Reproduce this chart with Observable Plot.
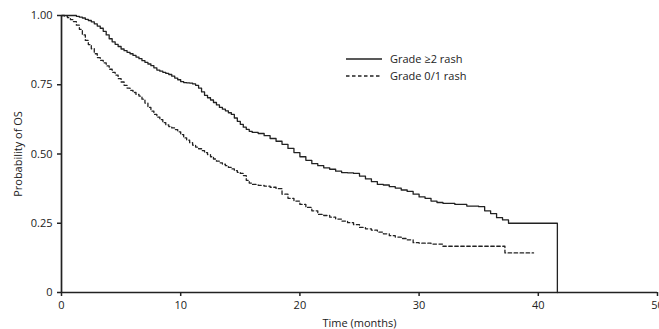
<!DOCTYPE html>
<html>
<head>
<meta charset="utf-8">
<script src="https://cdn.jsdelivr.net/npm/d3@7"></script>
<script src="https://cdn.jsdelivr.net/npm/@observablehq/plot@0.6"></script>
<style>
  html, body { margin: 0; padding: 0; background: #fff; }
  #wrap { position: relative; width: 659px; height: 329px; overflow: hidden; font-family: "Open Sans", "Noto Sans", sans-serif; }
  #legend { position: absolute; left: 346px; top: 50px; font-size: 11px; color: #222; }
  .li { display: flex; align-items: center; height: 17px; }
  .li svg { margin-right: 8px; }
</style>
</head>
<body>
<div id="wrap"></div>
<script>
const seriesNames = ["Grade \u22652 rash", "Grade 0/1 rash"];

const timeHigh = [0,1.0,1.25,1.5,1.75,2.0,2.25,2.5,2.75,3.0,3.25,3.5,3.75,4.0,4.25,4.5,4.75,5.0,5.25,5.5,5.75,6.0,6.25,6.5,6.75,7.0,7.25,7.5,7.75,8.0,8.25,8.5,8.75,9.0,9.25,9.5,9.75,10.0,10.25,10.5,10.75,11.0,11.25,11.5,11.75,12.0,12.25,12.5,12.75,13.0,13.25,13.5,13.75,14.0,14.25,14.5,14.75,15.0,15.25,15.5,15.75,16.0,16.5,17.0,17.5,18.0,18.5,19.0,19.5,20.0,20.5,21.0,21.5,22.0,22.5,23.0,23.5,24.0,24.5,25.0,25.5,26.0,26.5,27.0,27.5,28.0,28.5,29.0,29.5,30.0,30.5,31.0,31.5,32.0,33.0,34.0,35.0,35.5,36.0,36.5,37.0,37.5,41.6];
const survHigh = [1.0,1.0,0.997,0.994,0.991,0.986,0.982,0.977,0.970,0.962,0.954,0.943,0.93,0.916,0.905,0.896,0.888,0.879,0.873,0.867,0.862,0.856,0.85,0.844,0.837,0.831,0.825,0.819,0.811,0.803,0.799,0.795,0.791,0.787,0.781,0.774,0.768,0.761,0.758,0.757,0.756,0.753,0.748,0.738,0.724,0.712,0.703,0.695,0.686,0.677,0.668,0.662,0.656,0.649,0.643,0.63,0.618,0.607,0.597,0.589,0.582,0.578,0.574,0.566,0.556,0.546,0.535,0.52,0.505,0.49,0.477,0.465,0.458,0.45,0.445,0.438,0.433,0.432,0.43,0.42,0.41,0.40,0.39,0.388,0.382,0.377,0.37,0.365,0.355,0.345,0.34,0.33,0.325,0.322,0.318,0.312,0.31,0.295,0.285,0.27,0.262,0.25,0];

const timeLow = [0,0.25,0.5,0.75,1.0,1.25,1.5,1.75,2.0,2.25,2.5,2.75,3.0,3.25,3.5,3.75,4.0,4.25,4.5,4.75,5.0,5.25,5.5,5.75,6.0,6.25,6.5,6.75,7.0,7.25,7.5,7.75,8.0,8.25,8.5,8.75,9.0,9.25,9.5,9.75,10.0,10.25,10.5,10.75,11.0,11.25,11.5,11.75,12.0,12.25,12.5,12.75,13.0,13.25,13.5,13.75,14.0,14.25,14.5,14.75,15.0,15.25,15.5,15.75,16.0,16.5,17.0,17.5,18.0,18.5,19.0,19.5,20.0,20.5,21.0,21.5,22.0,22.5,23.0,23.5,24.0,24.5,25.0,25.5,26.0,26.5,27.0,27.5,28.0,28.5,29.0,29.5,30.0,31.0,32.0,37.2,39.6];
const survLow = [1.0,0.998,0.992,0.985,0.978,0.965,0.95,0.93,0.91,0.895,0.88,0.862,0.848,0.838,0.829,0.818,0.806,0.795,0.785,0.772,0.76,0.748,0.738,0.73,0.722,0.715,0.709,0.698,0.684,0.668,0.655,0.643,0.633,0.624,0.613,0.605,0.599,0.594,0.588,0.58,0.57,0.558,0.55,0.541,0.532,0.525,0.519,0.512,0.505,0.498,0.49,0.482,0.474,0.468,0.463,0.458,0.452,0.446,0.44,0.434,0.43,0.422,0.405,0.395,0.39,0.387,0.384,0.38,0.375,0.355,0.34,0.33,0.318,0.307,0.295,0.282,0.278,0.272,0.265,0.258,0.252,0.245,0.235,0.23,0.225,0.218,0.212,0.205,0.20,0.195,0.19,0.18,0.178,0.175,0.167,0.143,0.143];

const xTicks = [0, 10, 20, 30, 40, 50];
const yTicks = [0, 0.25, 0.5, 0.75, 1];

const high = timeHigh.map((t, i) => ({t, s: survHigh[i]}));
const low = timeLow.map((t, i) => ({t, s: survLow[i]}));

const chart = Plot.plot({
  width: 659,
  height: 329,
  marginLeft: 61,
  marginRight: 2,
  marginTop: 15,
  marginBottom: 37,
  style: {fontFamily: '"Open Sans", "Noto Sans", sans-serif', fontSize: "11px", color: "#222", background: "white", overflow: "visible"},
  x: {domain: [0, 50]},
  y: {domain: [0, 1]},
  marks: [
    Plot.axisX({ticks: xTicks, tickSize: 4, tickFormat: d => String(d), label: "Time (months)", labelAnchor: "center", labelOffset: 34, labelArrow: "none", stroke: "#222", strokeWidth: 1.5}),
    Plot.axisY({ticks: yTicks, tickSize: 4, tickFormat: d => d === 0 ? "0" : d3.format(".2f")(d), label: "Probability of OS", labelAnchor: "center", labelOffset: 47, labelArrow: "none", stroke: "#222", strokeWidth: 1.5}),
    Plot.ruleX([0], {stroke: "#222", strokeWidth: 1.7}),
    Plot.ruleY([0], {stroke: "#222", strokeWidth: 1.7}),
    Plot.line(high, {x: "t", y: "s", curve: "step-after", stroke: "#222", strokeWidth: 1.3}),
    Plot.line(low, {x: "t", y: "s", curve: "step-after", stroke: "#222", strokeWidth: 1.3, strokeDasharray: "3.5,2.5"})
  ]
});

const wrap = document.getElementById("wrap");
wrap.appendChild(chart);

const legend = document.createElement("div");
legend.id = "legend";
const dashes = [null, "3.5,2.5"];
seriesNames.forEach((name, i) => {
  const row = document.createElement("div");
  row.className = "li";
  const da = dashes[i] ? ` stroke-dasharray="${dashes[i]}"` : "";
  row.innerHTML = `<svg width="36" height="4"><line x1="0" x2="36" y1="2" y2="2" stroke="#222" stroke-width="1.3"${da}/></svg><span>${name}</span>`;
  legend.appendChild(row);
});
wrap.appendChild(legend);
</script>
</body>
</html>
